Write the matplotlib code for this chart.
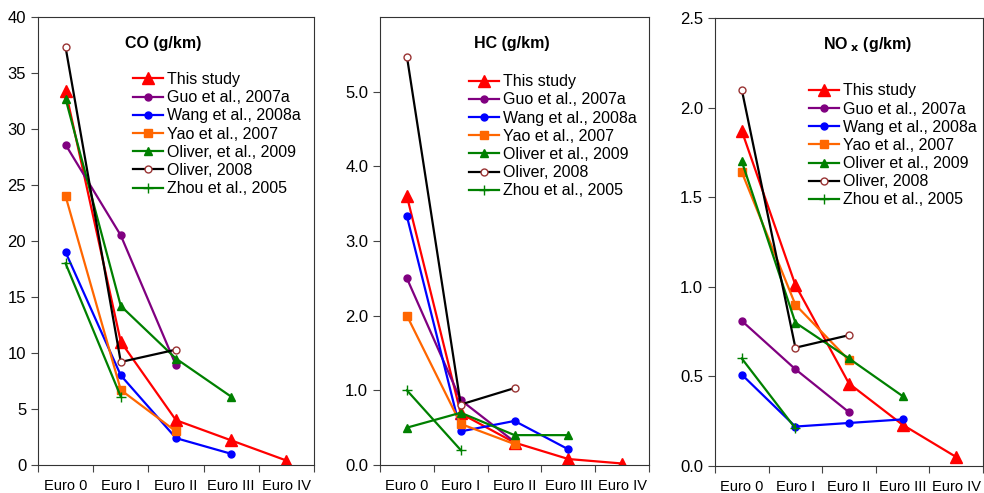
import numpy as np
import matplotlib.pyplot as plt

plt.rcParams["font.family"] = ["Liberation Sans", "DejaVu Sans"]

stages = ["Euro 0", "Euro I", "Euro II", "Euro III", "Euro IV"]
labels = ["This study", "Guo et al., 2007a", "Wang et al., 2008a", "Yao et al., 2007",
          "Oliver, et al., 2009", "Oliver, 2008", "Zhou et al., 2005"]

# CO (g/km)
co_this = [33.4, 11.0, 4.0, 2.2, 0.4]
co_guo = [28.6, 20.5, 8.9]
co_wang = [19.0, 8.0, 2.4, 1.0]
co_yao = [24.0, 6.7, 3.0]
co_oliver09 = [32.7, 14.2, 9.5, 6.1]
co_oliver08 = [37.3, 9.2, 10.3]
co_zhou = [18.0, 6.1]

# HC (g/km)
hc_this = [3.6, 0.69, 0.3, 0.08, 0.02]
hc_guo = [2.5, 0.87, 0.31]
hc_wang = [3.33, 0.45, 0.59, 0.21]
hc_yao = [2.0, 0.55, 0.28]
hc_oliver09 = [0.5, 0.7, 0.4, 0.4]
hc_oliver08 = [5.47, 0.81, 1.03]
hc_zhou = [1.0, 0.2]

# NOx (g/km)
nox_this = [1.87, 1.01, 0.46, 0.23, 0.05]
nox_guo = [0.81, 0.54, 0.30]
nox_wang = [0.51, 0.22, 0.24, 0.26]
nox_yao = [1.64, 0.90, 0.59]
nox_oliver09 = [1.70, 0.80, 0.60, 0.39]
nox_oliver08 = [2.10, 0.66, 0.73]
nox_zhou = [0.60, 0.21]

styles = [
    dict(color="#ff0000", marker="^", ms=8),
    dict(color="#800080", marker="o", ms=5),
    dict(color="#0000ff", marker="o", ms=5),
    dict(color="#ff6600", marker="s", ms=6),
    dict(color="#008000", marker="^", ms=6),
    dict(color="black", marker="o", ms=5, mfc="white", mec="#993333"),
    dict(color="#008000", marker="+", ms=7),
]

fig = plt.figure(figsize=(9.84, 4.93), dpi=100)

panels = [
    dict(rect=[0.0386, 0.0568, 0.2805, 0.9087], title="CO (g/km)",
         data=[co_this, co_guo, co_wang, co_yao, co_oliver09, co_oliver08, co_zhou],
         ylim=(0, 40), yticks=np.arange(0, 41, 5), fmt="%d",
         title_xy=(0.455, 0.94), leg_xy=(0.315, 0.895), names=labels),
    dict(rect=[0.3862, 0.0568, 0.2734, 0.9087], title="HC (g/km)",
         data=[hc_this, hc_guo, hc_wang, hc_yao, hc_oliver09, hc_oliver08, hc_zhou],
         ylim=(0, 6), yticks=np.arange(0, 5.1, 1), fmt="%.1f",
         title_xy=(0.49, 0.94), leg_xy=(0.30, 0.89),
         names=labels[:4] + ["Oliver et al., 2009"] + labels[5:]),
    dict(rect=[0.7266, 0.0548, 0.2724, 0.9087], title="NO$_{\\ \\mathbf{x}}$ (g/km)",
         data=[nox_this, nox_guo, nox_wang, nox_yao, nox_oliver09, nox_oliver08, nox_zhou],
         ylim=(0, 2.5), yticks=np.arange(0, 2.51, 0.5), fmt="%.1f",
         title_xy=(0.57, 0.94), leg_xy=(0.32, 0.872),
         names=labels[:4] + ["Oliver et al., 2009"] + labels[5:]),
]

x = np.arange(len(stages)) + 0.5
for p in panels:
    ax = fig.add_axes(p["rect"])
    for vals, st, name in zip(p["data"], styles, p["names"]):
        ax.plot(x[:len(vals)], vals, lw=1.6, label=name, **st)
    ax.set_xlim(0, 5)
    ax.set_ylim(*p["ylim"])
    ax.set_yticks(p["yticks"])
    ax.set_yticklabels([p["fmt"] % v for v in p["yticks"]], fontsize=12)
    ax.set_xticks(np.arange(0, 6))
    ax.set_xticklabels([])
    ax.set_xticks(x, minor=True)
    ax.set_xticklabels(stages, minor=True, fontsize=10.5)
    ax.tick_params(axis="x", which="minor", length=0, pad=10)
    ax.tick_params(axis="both", which="major", direction="out", length=5, color="#444444")
    for s in ax.spines.values():
        s.set_color("#333333")
    ax.text(p["title_xy"][0], p["title_xy"][1], p["title"], transform=ax.transAxes,
            ha="center", va="center", fontsize=11.5, fontweight="bold")
    ax.legend(loc="upper left", bbox_to_anchor=p["leg_xy"], frameon=False, fontsize=11.5,
              handlelength=1.9, handletextpad=0.25, labelspacing=0.2, borderpad=0)

fig.savefig("out.png", dpi=100)
